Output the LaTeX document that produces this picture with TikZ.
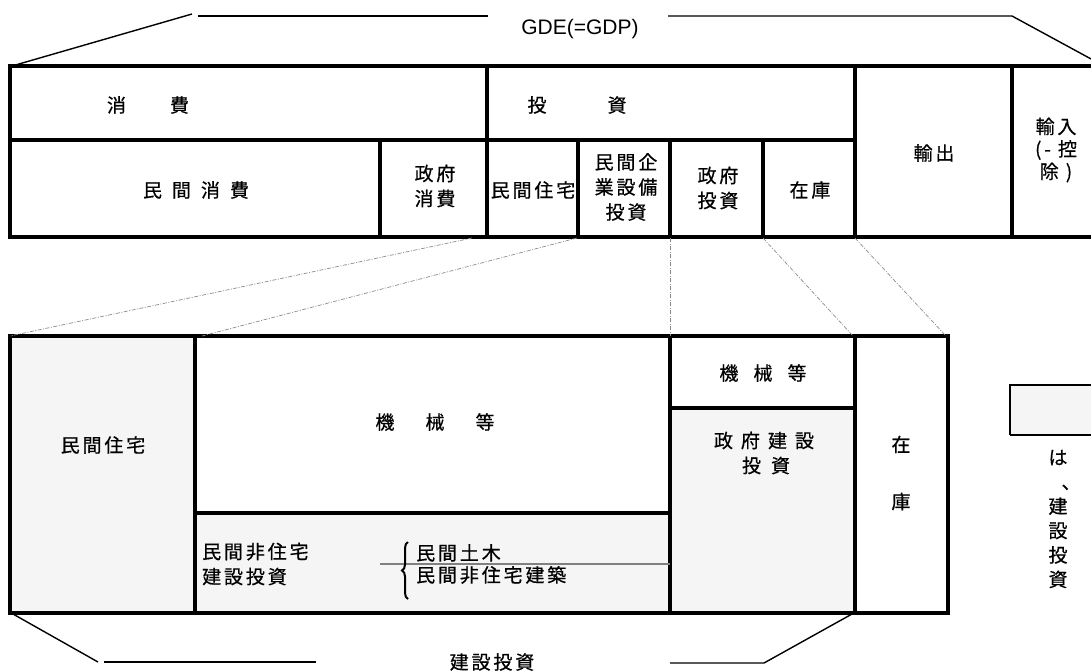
\documentclass[tikz,border=0pt]{standalone}
\usepackage{fontspec}
\setmainfont{Liberation Sans}
\newfontfamily\cjk[LetterSpace=15,FakeBold=0.6]{Noto Sans CJK JP}
\usetikzlibrary{decorations.pathreplacing}
\definecolor{lg}{HTML}{F5F5F5}
\definecolor{midgray}{HTML}{808080}
\definecolor{dotgray}{HTML}{8C8C8C}
\tikzset{
  tbl/.style={line width=3.3pt, line join=miter, line cap=rect},
  thinline/.style={line width=1.4pt, black},
  mapline/.style={line width=0.7pt, dotgray, dash pattern=on 4pt off 1.5pt on 1pt off 1.5pt},
  lbl/.style={inner sep=0pt, align=center, font=\cjk\fontsize{19}{25}\selectfont},
  vlbl/.style={inner sep=0pt, align=center, font=\cjk\fontsize{19}{24.4}\selectfont},
}
\begin{document}
\begin{tikzpicture}[x=1pt,y=-1pt]
% ---------- top table ----------
\draw[tbl] (1105,66) -- (10,66) -- (10,237) -- (1105,237);
\draw[tbl] (10,140) -- (855,140);
\draw[tbl] (487,66) -- (487,237);
\draw[tbl] (855,66) -- (855,237);
\draw[tbl] (1012,66) -- (1012,237);
\foreach \xx in {380,578,670,763} \draw[tbl] (\xx,140) -- (\xx,237);
% GDE bracket
\coordinate (g1) at (12,66); \coordinate (g2) at (192,14);
\coordinate (g3) at (198,16); \coordinate (g4) at (488,16);
\coordinate (g5) at (668,16); \coordinate (g6) at (1012,16);
\coordinate (g7) at (1104,66);
\draw[thinline] (g1) -- (g2);
\draw[thinline] (g3) -- (g4);
\draw[thinline] (g5) -- (g6) -- (g7);
\node[inner sep=0pt, font=\fontsize{21}{25}\selectfont] (gde) at (580,29) {GDE(=GDP)};
% top table labels
\node[lbl] (shohi) at (148,105) {消\hspace{44pt}費};
\node[lbl] (toshi) at (577,105) {投\hspace{61pt}資};
\node[lbl] (minkanshohi) at (196,190) {民\hspace{10pt}間\hspace{10pt}消\hspace{10pt}費};
\node[lbl] (seifushohi) at (435,186) {政府\\消費};
\node[lbl] (jutaku) at (533,190) {民間住宅};
\node[lbl] (kigyo) at (626,187) {民間企\\業設備\\投資};
\node[lbl] (seifutoshi) at (718,188) {政府\\投資};
\node[lbl] (zaiko) at (810,190) {在庫};
\node[lbl] (yushutsu) at (934,153) {輸出};
\node[lbl, font=\cjk\fontsize{19}{22.5}\selectfont] (yunyu) at (1056,150) {輸入\\(- 控\\除 )};
% ---------- bottom table ----------
\fill[lg] (10,336) rectangle (195,613);
\fill[lg] (195,513) rectangle (670,613);
\fill[lg] (670,408) rectangle (855,613);
\draw[tbl] (10,336) rectangle (948,613);
\draw[tbl] (195,336) -- (195,613);
\draw[tbl] (670,336) -- (670,613);
\draw[tbl] (855,336) -- (855,613);
\draw[tbl] (195,513) -- (670,513);
\draw[tbl] (670,408) -- (855,408);
% mapping lines
\coordinate (t1) at (472,238); \coordinate (b1) at (10,336);
\coordinate (t2) at (577,238); \coordinate (b2) at (202,336);
\coordinate (t3) at (670,238); \coordinate (b3) at (670,336);
\coordinate (t4) at (763,238); \coordinate (b4) at (853,336);
\coordinate (t5) at (855,238); \coordinate (b5) at (946,336);
\draw[mapline] (t1) -- (b1);
\draw[mapline] (t2) -- (b2);
\draw[mapline] (t3) -- (b3);
\draw[mapline] (t4) -- (b4);
\draw[mapline] (t5) -- (b5);
% bottom labels
\node[lbl] (bjutaku) at (103,445) {民間住宅};
\node[lbl] (kikai) at (435,422) {機\hspace{31pt}械\hspace{31pt}等};
\node[lbl] (kikai2) at (763,373) {機\hspace{15pt}械\hspace{15pt}等};
\node[lbl] (seifuken) at (764,453) {政\hspace{8pt}府\hspace{8pt}建\hspace{8pt}設\\\hspace*{4pt}投\hspace{10pt}資};
\node[vlbl, font=\cjk\fontsize{19}{57}\selectfont] (bzaiko) at (901,473) {在\\庫};
\node[lbl, anchor=west, align=left] (hijutaku) at (202,564) {民間非住宅\\建設投資};
\node[lbl, anchor=west, align=left, font=\cjk\fontsize{19}{22}\selectfont] (doboku) at (416,564) {民間土木\\民間非住宅建築};
\coordinate (gl1) at (380,564); \coordinate (gl2) at (670,564);
\draw[midgray, line width=2pt] (gl1) -- (gl2);
\coordinate (br1) at (408,599); \coordinate (br2) at (408,542);
\draw[line width=2pt, decorate, decoration={brace, amplitude=6pt}] (br1) -- (br2);
% construction bracket
\coordinate (c1) at (13,614); \coordinate (c2) at (98,662);
\coordinate (c3) at (104,662); \coordinate (c4) at (316,662);
\coordinate (c5) at (670,663); \coordinate (c6) at (764,663);
\coordinate (c7) at (852,614);
\draw[thinline] (c1) -- (c2);
\draw[thinline] (c3) -- (c4);
\draw[thinline] (c5) -- (c6) -- (c7);
\node[lbl] (kensetsu) at (492,662) {建設投資};
% legend
\fill[lg] (1010,385) rectangle (1105,435);
\draw[line width=1.3pt] (1105,385) -- (1010,385) -- (1010,435);
\draw[line width=2pt] (1010,435) -- (1105,435);
\node[vlbl] (legend) at (1058,519) {は\\\hspace*{26pt}、\\建\\設\\投\\資};
\pgfresetboundingbox
\useasboundingbox (0,0) rectangle (1091,670);
\end{tikzpicture}
\end{document}
